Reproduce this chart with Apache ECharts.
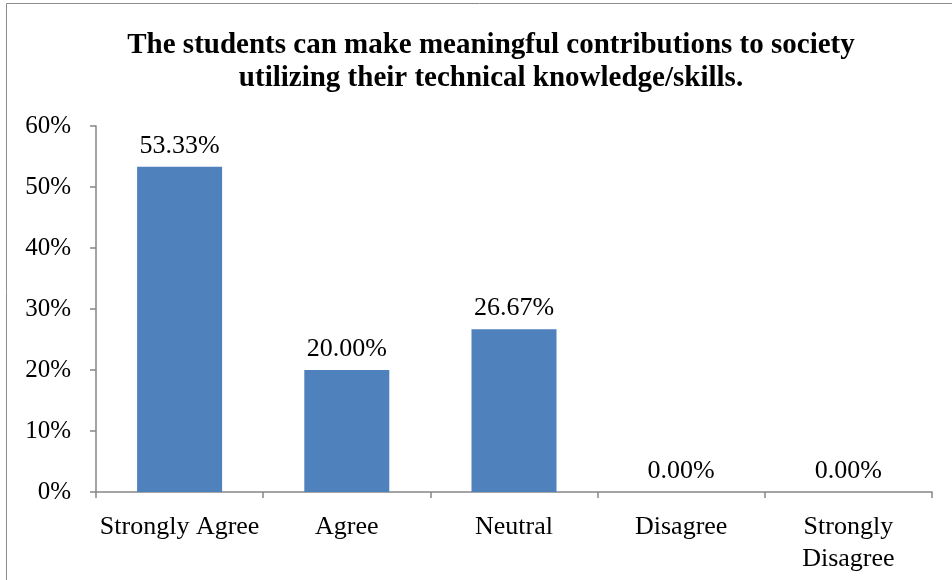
<!DOCTYPE html>
<html><head><meta charset="utf-8">
<script src="https://cdn.jsdelivr.net/npm/echarts@6/dist/echarts.min.js"></script>
<style>html,body{margin:0;padding:0;background:#fff}#c{width:952px;height:580px}</style>
</head><body><div id="c"></div>
<script>
const categories = ['Strongly Agree', 'Agree', 'Neutral', 'Disagree', 'Strongly\nDisagree'];
const values = [53.33, 20.00, 26.67, 0.00, 0.00];
const titleText = 'The students can make meaningful contributions to society\nutilizing their technical knowledge/skills.';
const serif = '"Liberation Serif", "Times New Roman", serif';
const chart = echarts.init(document.getElementById('c'));
chart.setOption({
  animation: false,
  graphic: [{type:'rect', left:4, top:1, shape:{width:946, height:620}, style:{fill:'none', stroke:'#8c8c8c', lineWidth:1}, silent:true}],
  title: {text: titleText, left: 486, textAlign:'center', top: 24,
    textStyle:{fontFamily: serif, fontWeight:'bold', fontSize:29, lineHeight:33, color:'#000'}},
  grid: {left: 96, right: 20, top: 126, bottom: 88, containLabel:false},
  xAxis: {type:'category', data: categories,
    axisLine:{lineStyle:{color:'#868686', width:1.5}},
    axisTick:{show:true, length:6, lineStyle:{color:'#868686', width:1.5}},
    axisLabel:{interval:0, fontFamily: serif, fontSize:26, color:'#000', margin:19, lineHeight:32}},
  yAxis: {type:'value', min:0, max:60, interval:10,
    axisLine:{show:true, lineStyle:{color:'#868686', width:1.5}},
    axisTick:{show:true, length:6, lineStyle:{color:'#868686', width:1.5}},
    splitLine:{show:false},
    axisLabel:{fontFamily: serif, fontSize:25, color:'#000', margin:25, formatter: v => v + '%'}},
  series: [{type:'bar', data: values, barWidth: 85,
    itemStyle:{color:'#4F81BD', borderWidth:0},
    label:{show:true, position:'top', distance:8, fontFamily: serif, fontSize:26, color:'#000',
      formatter: p => p.value.toFixed(2) + '%'}}]
});
</script></body></html>
